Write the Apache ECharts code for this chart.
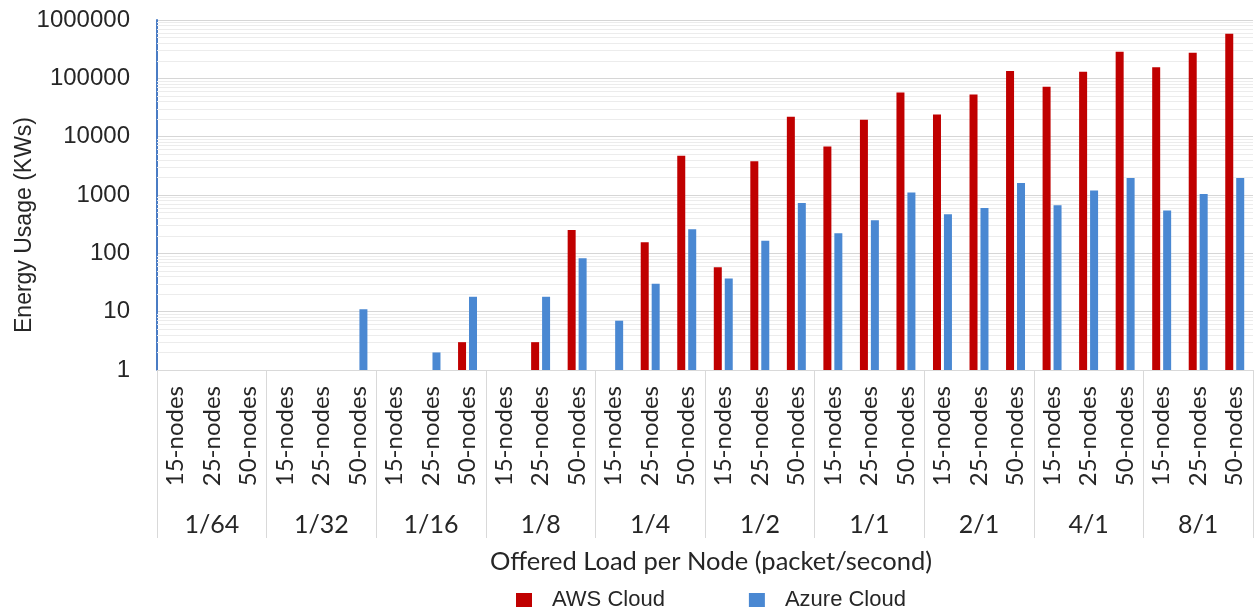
<!DOCTYPE html>
<html>
<head>
<meta charset="utf-8">
<script src="https://cdn.jsdelivr.net/npm/echarts@6/dist/echarts.min.js"></script>
<style>
  html, body { margin: 0; padding: 0; background: #ffffff; }
  #chart { width: 1255px; height: 610px; }
</style>
</head>
<body>
<div id="chart"></div>
<script>
// ---- Data ----
const loadGroups = ['1/64', '1/32', '1/16', '1/8', '1/4', '1/2', '1/1', '2/1', '4/1', '8/1'];
const nodeLabels = ['15-nodes', '25-nodes', '50-nodes'];
const seriesNames = ['AWS Cloud', 'Azure Cloud'];
const yTickValues = [1, 10, 100, 1000, 10000, 100000, 1000000];

// values per category (group x nodes), null = no bar
const awsValues = [
  null, null, null,      // 1/64
  null, null, null,      // 1/32
  null, null, 3,         // 1/16
  null, 3, 250,          // 1/8
  null, 155, 4700,       // 1/4
  58, 3800, 22000,       // 1/2
  6800, 19500, 57000,    // 1/1
  24000, 53000, 134000,  // 2/1
  72000, 130000, 286000, // 4/1
  155000, 275000, 583000 // 8/1
];
const azureValues = [
  null, null, null,      // 1/64
  null, null, 11,        // 1/32
  null, 2, 18,           // 1/16
  null, 18, 82,          // 1/8
  7, 30, 260,            // 1/4
  37, 165, 730,          // 1/2
  220, 370, 1100,        // 1/1
  470, 600, 1600,        // 2/1
  670, 1200, 1950,       // 4/1
  540, 1040, 1950        // 8/1
];

// ---- Build ----
const categories = [];
loadGroups.forEach(g => nodeLabels.forEach(n => categories.push(n)));

// minor log gridlines (2..9 x 10^k) inside each decade
const minorGrid = [];
for (let i = 0; i < yTickValues.length - 1; i++) {
  for (let m = 2; m <= 9; m++) minorGrid.push({ yAxis: m * yTickValues[i] });
}

const labelColor = '#262626';
const chart = echarts.init(document.getElementById('chart'), null, { renderer: 'canvas' });

const option = {
  backgroundColor: '#ffffff',
  animation: false,
  grid: { left: 157, right: 2, top: 20, bottom: 240, containLabel: false },
  legend: {
    data: seriesNames,
    left: 511,
    top: 584,
    icon: 'rect',
    itemWidth: 16,
    itemHeight: 14,
    itemGap: 84,
    textStyle: {
      fontFamily: '"Liberation Sans", Arial, sans-serif',
      fontSize: 22,
      color: labelColor,
      padding: [0, 0, 0, 15]
    }
  },
  xAxis: [
    {
      type: 'category',
      data: categories,
      position: 'bottom',
      axisLine: { show: true, lineStyle: { color: '#d9d9d9', width: 1 } },
      axisTick: { show: false },
      axisLabel: {
        interval: 0,
        rotate: 90,
        margin: 16,
        fontFamily: 'Lato, "Open Sans", sans-serif',
        fontSize: 24,
        color: labelColor
      },
      name: 'Offered Load per Node (packet/second)',
      nameLocation: 'middle',
      nameGap: 179,
      nameTextStyle: {
        fontFamily: 'Lato, "Open Sans", sans-serif',
        fontSize: 25.5,
        color: labelColor,
        padding: [0, 0, 0, 12]
      }
    },
    {
      type: 'category',
      data: loadGroups,
      position: 'bottom',
      axisLine: { show: false },
      axisTick: { show: true, interval: 0, length: 168, lineStyle: { color: '#d9d9d9', width: 1 } },
      axisLabel: {
        interval: 0,
        margin: 142,
        lineHeight: 26,
        fontFamily: 'Lato, "Open Sans", sans-serif',
        fontSize: 25,
        color: labelColor
      },
      splitLine: { show: false }
    }
  ],
  yAxis: {
    type: 'log',
    logBase: 10,
    min: 1,
    max: 1000000,
    splitNumber: 6,
    axisLine: { show: true, lineStyle: { color: '#4A7CC4', width: 2 } },
    axisTick: { show: false },
    axisLabel: {
      margin: 27,
      fontFamily: '"Liberation Sans", Arial, sans-serif',
      fontSize: 24,
      color: labelColor,
      formatter: v => String(Math.round(v))
    },
    splitLine: { show: true, lineStyle: { color: '#d6d6d6', width: 1 } }
  },
  graphic: [{
    type: 'text',
    x: 25,
    y: 225,
    rotation: Math.PI / 2,
    style: {
      text: 'Energy Usage (KWs)',
      font: '23px "Liberation Sans", Arial, sans-serif',
      fill: labelColor,
      align: 'center',
      verticalAlign: 'middle'
    }
  }],
  series: [
    {
      name: seriesNames[0],
      type: 'bar',
      xAxisIndex: 0,
      data: awsValues,
      barWidth: 8,
      barGap: '37%',
      itemStyle: { color: '#C00000' },
      markLine: {
        silent: true,
        z: 1,
        symbol: ['none', 'none'],
        label: { show: false },
        lineStyle: { color: '#ececec', type: 'solid', width: 1 },
        data: minorGrid
      }
    },
    {
      name: seriesNames[1],
      type: 'bar',
      xAxisIndex: 0,
      data: azureValues,
      barWidth: 8,
      barGap: '37%',
      itemStyle: { color: '#4A88D2' }
    }
  ]
};
chart.setOption(option);
</script>
</body>
</html>
